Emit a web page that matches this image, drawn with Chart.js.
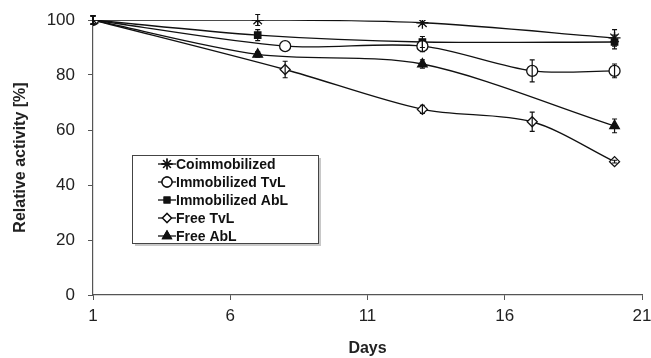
<!DOCTYPE html>
<html>
<head>
<meta charset="utf-8">
<script src="https://cdn.jsdelivr.net/npm/chart.js@4/dist/chart.umd.min.js"></script>
<style>
  body { margin: 0; background: #fff; }
  #wrap { width: 651px; height: 358px; }
</style>
</head>
<body>
<div id="wrap"><canvas id="myChart" width="651" height="358"></canvas></div>
<script>
const xTicks = [1, 6, 11, 16, 21];
const yTicks = [0, 20, 40, 60, 80, 100];

const coimmDays = [1, 7, 13, 20];
const coimmVals = [100, 100, 99, 93.5];
const coimmErr = [1.5, 2, 0, 3];

const immTvlDays = [1, 8, 13, 17, 20];
const immTvlVals = [100, 90.5, 90.5, 81.5, 81.5];
const immTvlErr = [1.5, 0, 2, 4, 2.5];

const immAblDays = [1, 7, 13, 20];
const immAblVals = [100, 94.5, 92, 92];
const immAblErr = [1.5, 2, 2, 2.5];

const freeTvlDays = [1, 8, 13, 17, 20];
const freeTvlVals = [100, 82, 67.5, 63, 48.5];
const freeTvlErr = [1.5, 3, 1.5, 3.5, 0.5];

const freeAblDays = [1, 7, 13, 20];
const freeAblVals = [100, 87.5, 84, 61.5];
const freeAblErr = [1.5, 1, 1.5, 2.5];

const pts = (xs, ys) => xs.map((x, i) => ({ x: x, y: ys[i] }));

function series(label, xs, ys, err, style, fill, radius) {
  return {
    label: label,
    data: pts(xs, ys),
    err: err,
    showLine: true,
    borderColor: '#111',
    borderWidth: 1.3,
    tension: 0.3,
    pointStyle: style,
    pointRadius: radius,
    pointBackgroundColor: fill,
    pointBorderColor: '#111',
    pointBorderWidth: 1.3
  };
}

const datasets = [
  series('Coimmobilized', coimmDays, coimmVals, coimmErr, 'star', '#111', 6),
  series('Immobilized TvL', immTvlDays, immTvlVals, immTvlErr, 'circle', '#fff', 5.5),
  series('Immobilized AbL', immAblDays, immAblVals, immAblErr, 'rect', '#111', 4.5),
  series('Free TvL', freeTvlDays, freeTvlVals, freeTvlErr, 'rectRot', '#fff', 5),
  series('Free AbL', freeAblDays, freeAblVals, freeAblErr, 'triangle', '#111', 5.5)
];

// vertical error bars read from each dataset's err array
const errorBars = {
  id: 'errorBars',
  afterDatasetsDraw(chart) {
    const ctx = chart.ctx;
    const ys = chart.scales.y, xs = chart.scales.x;
    ctx.save();
    ctx.strokeStyle = '#111';
    ctx.lineWidth = 1.2;
    chart.data.datasets.forEach(ds => {
      ds.data.forEach((p, i) => {
        const e = ds.err[i];
        if (!e) return;
        const px = xs.getPixelForValue(p.x);
        const y1 = ys.getPixelForValue(p.y + e);
        const y2 = ys.getPixelForValue(p.y - e);
        ctx.beginPath();
        ctx.moveTo(px, y1); ctx.lineTo(px, y2);
        ctx.moveTo(px - 2.5, y1); ctx.lineTo(px + 2.5, y1);
        ctx.moveTo(px - 2.5, y2); ctx.lineTo(px + 2.5, y2);
        ctx.stroke();
      });
    });
    ctx.restore();
  }
};

// boxed legend inside the plot area
const boxLegend = {
  id: 'boxLegend',
  afterDraw(chart) {
    const ctx = chart.ctx;
    const area = chart.chartArea;
    const left = area.left + 39, top = 155, w = 186, h = 88;
    ctx.save();
    ctx.fillStyle = '#c8c8c8';
    ctx.fillRect(left + 3, top + 3, w, h);
    ctx.fillStyle = '#fff';
    ctx.fillRect(left, top, w, h);
    ctx.strokeStyle = '#444';
    ctx.lineWidth = 1;
    ctx.strokeRect(left + 0.5, top + 0.5, w, h);
    ctx.font = 'bold 14px "Liberation Sans", Arial, sans-serif';
    ctx.textBaseline = 'middle';
    chart.data.datasets.forEach((ds, i) => {
      const y = top + 9 + i * 18;
      const mx = left + 35;
      ctx.strokeStyle = '#111';
      ctx.lineWidth = 1.3;
      ctx.beginPath();
      ctx.moveTo(mx - 9, y); ctx.lineTo(mx + 9, y);
      ctx.stroke();
      ctx.fillStyle = ds.pointBackgroundColor;
      Chart.helpers.drawPoint(ctx, { pointStyle: ds.pointStyle, radius: ds.pointRadius - 0.5, borderWidth: 1.3 }, mx, y);
      ctx.fill();
      ctx.stroke();
      ctx.fillStyle = '#111';
      ctx.fillText(ds.label, mx + 9, y + 1);
    });
    ctx.restore();
  }
};

const tickFont = { family: '"Liberation Sans", Arial, sans-serif', size: 17 };
const titleFont = { family: '"Liberation Sans", Arial, sans-serif', size: 16, weight: 'bold' };

const config = {
  type: 'scatter',
  data: { datasets: datasets },
  options: {
    responsive: false,
    animation: false,
    layout: { padding: { top: 20, right: 9, left: 0, bottom: 0 } },
    plugins: { legend: { display: false }, tooltip: { enabled: false } },
    scales: {
      x: {
        type: 'linear',
        min: 1, max: 21,
        afterBuildTicks: s => { s.ticks = xTicks.map(v => ({ value: v })); },
        afterFit: s => { s.height = 63; s.paddingRight = 0; s.paddingLeft = 0; },
        grid: { drawOnChartArea: false, drawTicks: true, tickLength: 5, color: '#555' },
        border: { color: '#555', width: 1.2 },
        ticks: { color: '#222', font: tickFont, padding: 6, maxRotation: 0 },
        title: { display: true, text: 'Days', color: '#222', font: titleFont, padding: { top: 6, bottom: 0 } }
      },
      y: {
        min: 0, max: 100,
        afterBuildTicks: s => { s.ticks = yTicks.map(v => ({ value: v })); },
        afterFit: s => { s.width = 93; s.paddingTop = 0; s.paddingBottom = 0; },
        grid: { drawOnChartArea: false, drawTicks: true, tickLength: 5, color: '#555' },
        border: { color: '#555', width: 1.2 },
        ticks: { color: '#222', font: tickFont, padding: 13 },
        title: { display: true, text: 'Relative activity [%]', color: '#222', font: titleFont, padding: { top: 11, bottom: 4 } }
      }
    }
  },
  plugins: [errorBars, boxLegend]
};

const ctx = document.getElementById('myChart');
const myChart = new Chart(ctx, config);
</script>
</body>
</html>
